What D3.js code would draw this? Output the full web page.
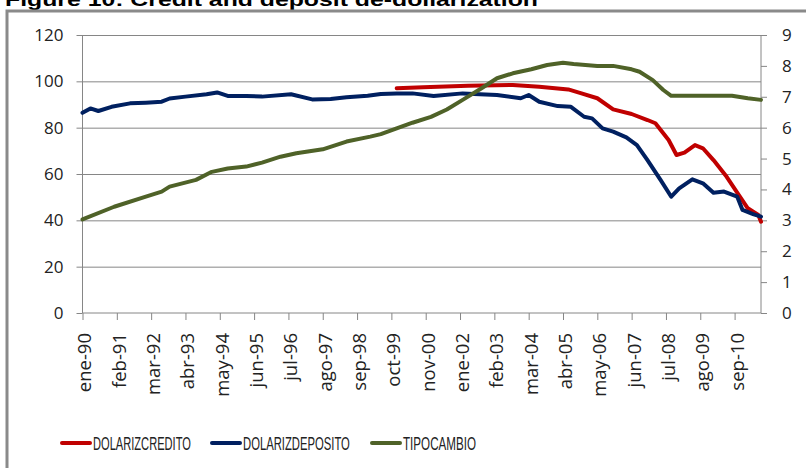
<!DOCTYPE html>
<html>
<meta charset="utf-8">
<style>
body { margin: 0; background: #fff; }
.axis path, .axis line { stroke: #868686; }
.grid line { stroke: #868686; }
.grid path { display: none; }
.line { fill: none; stroke-width: 4; stroke-linejoin: round; stroke-linecap: round; }
</style>
<svg width="806" height="468"></svg>
<script src="https://d3js.org/d3.v7.min.js"></script>
<script>
// x-axis labels, one every 13 months (month index 0 = ene-90)
var xLabels = ["ene-90", "feb-91", "mar-92", "abr-93", "may-94", "jun-95", "jul-96",
  "ago-97", "sep-98", "oct-99", "nov-00", "ene-02", "feb-03", "mar-04", "abr-05",
  "may-06", "jun-07", "jul-08", "ago-09", "sep-10"];
var lastMonth = 257;

var leftTicks = [0, 20, 40, 60, 80, 100, 120];
var rightTicks = [0, 1, 2, 3, 4, 5, 6, 7, 8, 9];

// DOLARIZDEPOSITO (left axis)
var depMonths = [0, 3, 6, 11, 18, 24, 30, 33, 39, 47, 51, 55, 62, 68, 79, 87, 94, 100, 108,
  113, 119, 125, 133, 144, 157, 166, 169, 173, 180, 185, 190, 193, 197, 201, 206, 210,
  214, 219, 223, 226, 231, 235, 239, 243, 248, 250, 254, 257];
var depValues = [86.4, 88.3, 87.2, 89, 90.5, 90.8, 91.2, 92.6, 93.4, 94.4, 95.2, 93.7, 93.7,
  93.4, 94.4, 92.2, 92.4, 93.1, 93.8, 94.5, 94.8, 94.8, 93.7, 94.8, 94.1, 92.7, 94.1, 91.2,
  89.3, 89.0, 84.7, 84.0, 79.7, 78.3, 75.8, 72.5, 66, 57.4, 50.2, 53.8, 57.7, 56, 51.9,
  52.4, 50.2, 44.5, 42.7, 41.6];

// DOLARIZCREDITO (left axis)
var credMonths = [119, 129, 146, 163, 173, 184, 189, 195, 201, 208, 214, 217, 222, 225, 228,
  232, 235, 239, 244, 249, 252, 256, 257];
var credValues = [97.0, 97.4, 98.1, 98.4, 97.7, 96.5, 94.8, 92.7, 87.9, 85.9, 83.3, 81.9,
  74.7, 68.2, 69.2, 72.5, 71.1, 66, 58.8, 50.2, 45.2, 42.3, 39.4];

// TIPOCAMBIO (right axis)
var fxMonths = [0, 12, 24, 30, 33, 43, 49, 55, 62, 68, 75, 81, 91, 100, 109, 113, 119, 125,
  132, 138, 144, 151, 157, 163, 170, 176, 182, 186, 195, 201, 208, 211, 216, 220, 223, 233,
  246, 252, 257];
var fxValues = [3.03, 3.44, 3.77, 3.93, 4.09, 4.31, 4.57, 4.68, 4.74, 4.87, 5.06, 5.17, 5.30,
  5.55, 5.71, 5.79, 5.98, 6.16, 6.35, 6.59, 6.9, 7.27, 7.6, 7.76, 7.89, 8.03, 8.10, 8.06,
  8.0, 8.0, 7.89, 7.81, 7.54, 7.22, 7.03, 7.03, 7.03, 6.95, 6.9];

var seriesNames = ["DOLARIZCREDITO", "DOLARIZDEPOSITO", "TIPOCAMBIO"];
var seriesColors = ["#C00000", "#002060", "#4F6228"];

function zip(a, b) { return a.map(function(m, i) { return [m, b[i]]; }); }

function drawChart() {
  var svg = d3.select("svg");
  var x0 = 82.5, x1 = 761, y0 = 313, y1 = 35;
  var tickFont = "'Open Sans', sans-serif";

  // title, cut off at the top edge
  svg.append("text")
    .attr("x", 5).attr("y", 6)
    .attr("textLength", 533).attr("lengthAdjust", "spacingAndGlyphs")
    .style("font-family", "'Liberation Sans', Arial, sans-serif")
    .style("font-weight", "bold").style("font-size", "19px")
    .text("Figure 10: Credit and deposit de-dollarization");

  // chart frame
  svg.append("path")
    .attr("d", "M7,470 L7,11 L810,11")
    .attr("fill", "none").attr("stroke", "#8a8a8a").attr("stroke-width", 3);

  var x = d3.scaleLinear().domain([0, lastMonth]).range([x0, x1]);
  var yL = d3.scaleLinear().domain([0, 120]).range([y0, y1]);
  var yR = d3.scaleLinear().domain([0, 9]).range([y0, y1]);

  // gridlines
  svg.append("g").attr("class", "grid")
    .attr("transform", "translate(" + x0 + ",0)")
    .call(d3.axisLeft(yL).tickValues(leftTicks.slice(1)).tickSize(-(x1 - x0)).tickFormat(""));

  // left axis
  var gl = svg.append("g").attr("class", "axis")
    .attr("transform", "translate(" + x0 + ",0)")
    .call(d3.axisLeft(yL).tickValues(leftTicks).tickSize(6).tickPadding(13));
  // right axis
  var gr = svg.append("g").attr("class", "axis")
    .attr("transform", "translate(" + x1 + ",0)")
    .call(d3.axisRight(yR).tickValues(rightTicks).tickSize(6).tickPadding(15));
  [gl, gr].forEach(function(g) {
    g.select(".domain").attr("d", "M0," + y1 + "V" + y0);
    g.selectAll("text").style("font-family", tickFont).style("font-size", "17px").attr("fill", "#222");
  });

  // x axis
  var gx = svg.append("g").attr("class", "axis")
    .attr("transform", "translate(0," + y0 + ")")
    .call(d3.axisBottom(x).tickValues(xLabels.map(function(d, i) { return i * 13; }))
      .tickSize(7).tickFormat(function(d) { return xLabels[d / 13]; }));
  gx.select(".domain").attr("d", "M" + x0 + ",0H" + x1);
  gx.selectAll("text")
    .attr("transform", "rotate(-90)")
    .attr("x", -20).attr("y", 2).attr("dy", "0.35em")
    .style("text-anchor", "end")
    .style("font-family", tickFont).style("font-size", "18.5px").attr("fill", "#222");

  // series
  var lineL = d3.line().x(function(d) { return x(d[0]); }).y(function(d) { return yL(d[1]); });
  var lineR = d3.line().x(function(d) { return x(d[0]); }).y(function(d) { return yR(d[1]); });

  svg.append("path").attr("class", "line").attr("stroke", seriesColors[0])
    .attr("d", lineL(zip(credMonths, credValues)));
  svg.append("path").attr("class", "line").attr("stroke", seriesColors[1])
    .attr("d", lineL(zip(depMonths, depValues)));
  svg.append("path").attr("class", "line").attr("stroke", seriesColors[2])
    .attr("d", lineR(zip(fxMonths, fxValues)));

  // legend - condensed text, squeezed horizontally to the reference widths
  var legendX = [62, 212, 372];
  var legendW = [98, 107, 73];
  var lg = svg.append("g").selectAll("g").data(seriesNames).enter().append("g")
    .attr("transform", function(d, i) { return "translate(" + legendX[i] + ",443)"; });
  lg.append("line").attr("x1", 0).attr("x2", 28).attr("y1", 0).attr("y2", 0)
    .attr("stroke", function(d, i) { return seriesColors[i]; })
    .attr("stroke-width", 4).attr("stroke-linecap", "round");
  lg.append("text")
    .style("font-family", "'Liberation Sans Narrow', 'Liberation Sans', sans-serif")
    .style("font-size", "19px").attr("fill", "#222")
    .text(function(d) { return d; })
    .attr("transform", function(d, i) {
      var w = this.getComputedTextLength();
      return "translate(31,7) scale(" + (legendW[i] / w) + ",1)";
    });
}

drawChart();
</script>
</html>
